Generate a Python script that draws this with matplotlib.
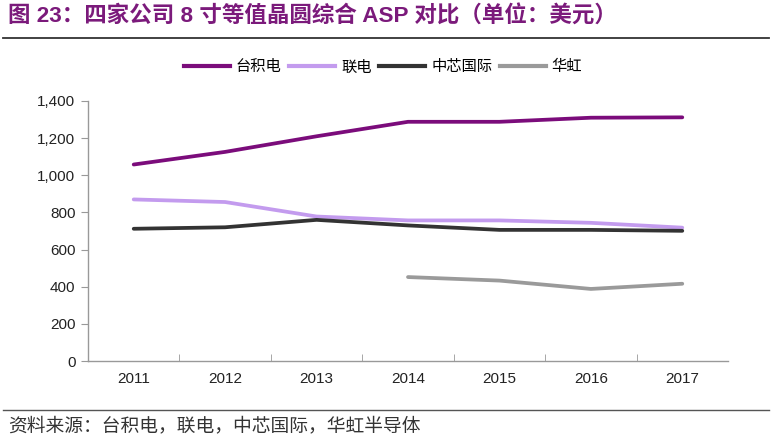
import matplotlib
matplotlib.use("Agg")
import matplotlib.pyplot as plt
from matplotlib.lines import Line2D

plt.rcParams['font.family'] = ['Liberation Sans', 'Noto Sans CJK SC', 'DejaVu Sans']

years = ["2011", "2012", "2013", "2014", "2015", "2016", "2017"]
tsmc = [1058, 1126, 1210, 1288, 1288, 1310, 1312]
umc = [870, 856, 778, 757, 757, 744, 718]
smic = [712, 720, 760, 730, 706, 706, 701]
huahong_years = ["2014", "2015", "2016", "2017"]
huahong = [452, 433, 388, 416]

series_names = ["台积电", "联电", "中芯国际", "华虹"]
colors = ["#7B0C7B", "#C39BEE", "#333333", "#9A9A9A"]

fig = plt.figure(figsize=(7.72, 4.44), dpi=100)
ax = fig.add_axes([88/772, 1-361/444, (728-88)/772, (361-101)/444])

x = list(range(len(years)))
xh = [years.index(y) for y in huahong_years]
lw = 2.7
ax.plot(x, tsmc, color=colors[0], lw=lw, solid_capstyle='round')
ax.plot(x, umc, color=colors[1], lw=lw, solid_capstyle='round')
ax.plot(x, smic, color=colors[2], lw=lw, solid_capstyle='round')
ax.plot(xh, huahong, color=colors[3], lw=lw, solid_capstyle='round')

ax.set_xlim(-0.5, len(years) - 0.5)
ax.set_ylim(0, 1400)
ax.set_yticks(range(0, 1401, 200))
ax.set_yticklabels([f"{v:,}" for v in range(0, 1401, 200)], fontsize=11, color="#222222")
ax.set_xticks(x)
ax.set_xticklabels(years, fontsize=11, color="#222222")
ax.tick_params(axis='x', length=0, pad=8)
ax.set_xticks([i + 0.5 for i in range(len(years) - 1)], minor=True)
ax.tick_params(axis='x', which='minor', direction='in', length=5, color="#999999")
ax.tick_params(axis='y', direction='out', length=5, color="#999999", pad=4)
for s in ['top', 'right']:
    ax.spines[s].set_visible(False)
for s in ['left', 'bottom']:
    ax.spines[s].set_color("#999999")
    ax.spines[s].set_linewidth(1.0)

handles = [Line2D([0], [0], color=c, lw=3) for c in colors]
fig.legend(handles, series_names, loc='center', bbox_to_anchor=(383/772, 1-67/444),
           ncol=4, frameon=False, handlelength=3.0, handletextpad=0.4,
           columnspacing=0.5, prop={'family': ['Noto Sans CJK SC'], 'size': 11})

fig.text(8/772, 1-17/444, "图 23：四家公司 8 寸等值晶圆综合 ASP 对比（单位：美元）",
         fontsize=16.2, fontweight='bold', color="#7B1A7B", va='center', ha='left',
         family=['Liberation Sans', 'Noto Sans CJK SC'])
fig.add_artist(Line2D([3/772, 769/772], [1-38/444, 1-38/444], color="#333333", lw=1.3))
fig.add_artist(Line2D([3/772, 769/772], [1-410/444, 1-410/444], color="#555555", lw=1.0))
fig.text(8/772, 1-426/444, "资料来源：台积电，联电，中芯国际，华虹半导体",
         fontsize=13.5, color="#333333", va='center', ha='left', family=['Noto Sans CJK SC'])

fig.savefig("out.png", dpi=100)
